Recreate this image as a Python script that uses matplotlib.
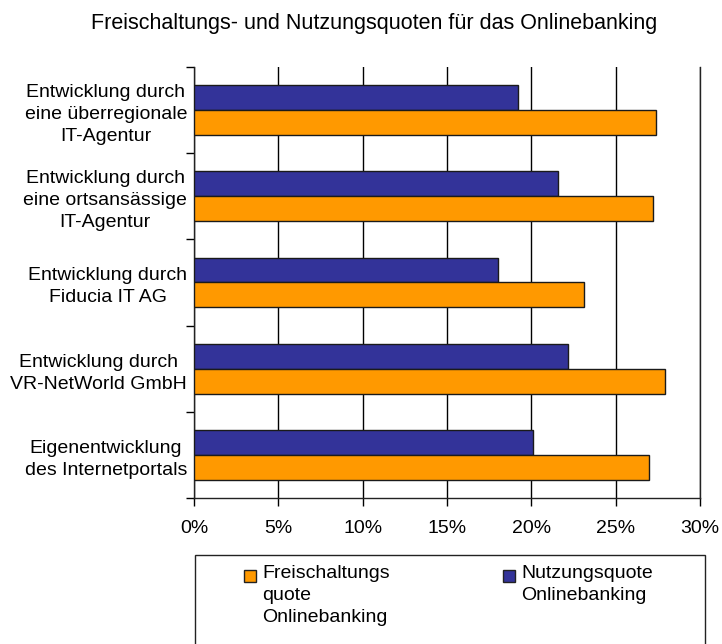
import numpy as np
import matplotlib.pyplot as plt
from matplotlib.patches import Rectangle

plt.rcParams['font.family'] = ['Liberation Sans', 'DejaVu Sans']

categories = ['Entwicklung durch\neine überregionale\nIT-Agentur',
              'Entwicklung durch\neine ortsansässige\nIT-Agentur',
              'Entwicklung durch\nFiducia IT AG',
              'Entwicklung durch\nVR-NetWorld GmbH',
              'Eigenentwicklung\ndes Internetportals']
nutzung = [19.2, 21.6, 18.0, 22.2, 20.1]
freischaltung = [27.4, 27.2, 23.1, 27.9, 27.0]
series_labels = ['Freischaltungs\nquote\nOnlinebanking', 'Nutzungsquote\nOnlinebanking']
blue = '#333399'
orange = '#FF9900'

fig = plt.figure(figsize=(7.22, 6.44), dpi=100)
ax = fig.add_axes([194 / 722, 1 - 498 / 644, 506 / 722, 431 / 644])

y = np.arange(len(categories))
h = 0.29
ax.barh(y - h / 2, nutzung, height=h, color=blue, edgecolor='#1a1a1a', linewidth=1, zorder=3)
ax.barh(y + h / 2, freischaltung, height=h, color=orange, edgecolor='#1a1a1a', linewidth=1, zorder=3)

ax.set_xlim(0, 30)
ax.set_ylim(len(categories) - 0.5, -0.5)
ax.set_xticks(np.arange(0, 31, 5))
ax.set_xticklabels(['%d%%' % v for v in range(0, 31, 5)], fontsize=14)
ax.xaxis.grid(True, color='black', linewidth=1, zorder=0)
ax.tick_params(axis='x', length=6, width=1, pad=10, direction='out')

ax.set_yticks(y)
ax.set_yticklabels(categories, fontsize=14, linespacing=1.38)
for lbl in ax.get_yticklabels():
    lbl.set_multialignment('center')
ax.tick_params(axis='y', which='major', length=0, pad=5)
ax.set_yticks(np.arange(-0.5, len(categories), 1), minor=True)
ax.tick_params(axis='y', which='minor', length=6, width=1, direction='out')

for side in ['top', 'right', 'left', 'bottom']:
    ax.spines[side].set_linewidth(1)
    ax.spines[side].set_color('#222222')
ax.spines['top'].set_visible(False)

fig.text(374 / 722, 1 - 24 / 644, 'Freischaltungs- und Nutzungsquoten für das Onlinebanking',
         ha='center', va='center', fontsize=15.5)

# legend box (bottom edge runs past the picture)
fig.add_artist(Rectangle((195 / 722, -0.05), 510 / 722, 0.05 + (644 - 555) / 644,
                         transform=fig.transFigure, facecolor='white', edgecolor='#222222',
                         linewidth=1))
for xs, col, lab in [(244, orange, series_labels[0]), (503, blue, series_labels[1])]:
    fig.add_artist(Rectangle((xs / 722, 1 - 582 / 644), 12 / 722, 12 / 644,
                             transform=fig.transFigure, facecolor=col, edgecolor='#222222',
                             linewidth=1))
    fig.text((xs + 18) / 722, 1 - 565 / 644, lab, ha='left', va='top', fontsize=14,
             linespacing=1.38)

fig.savefig('out.png', dpi=100)
